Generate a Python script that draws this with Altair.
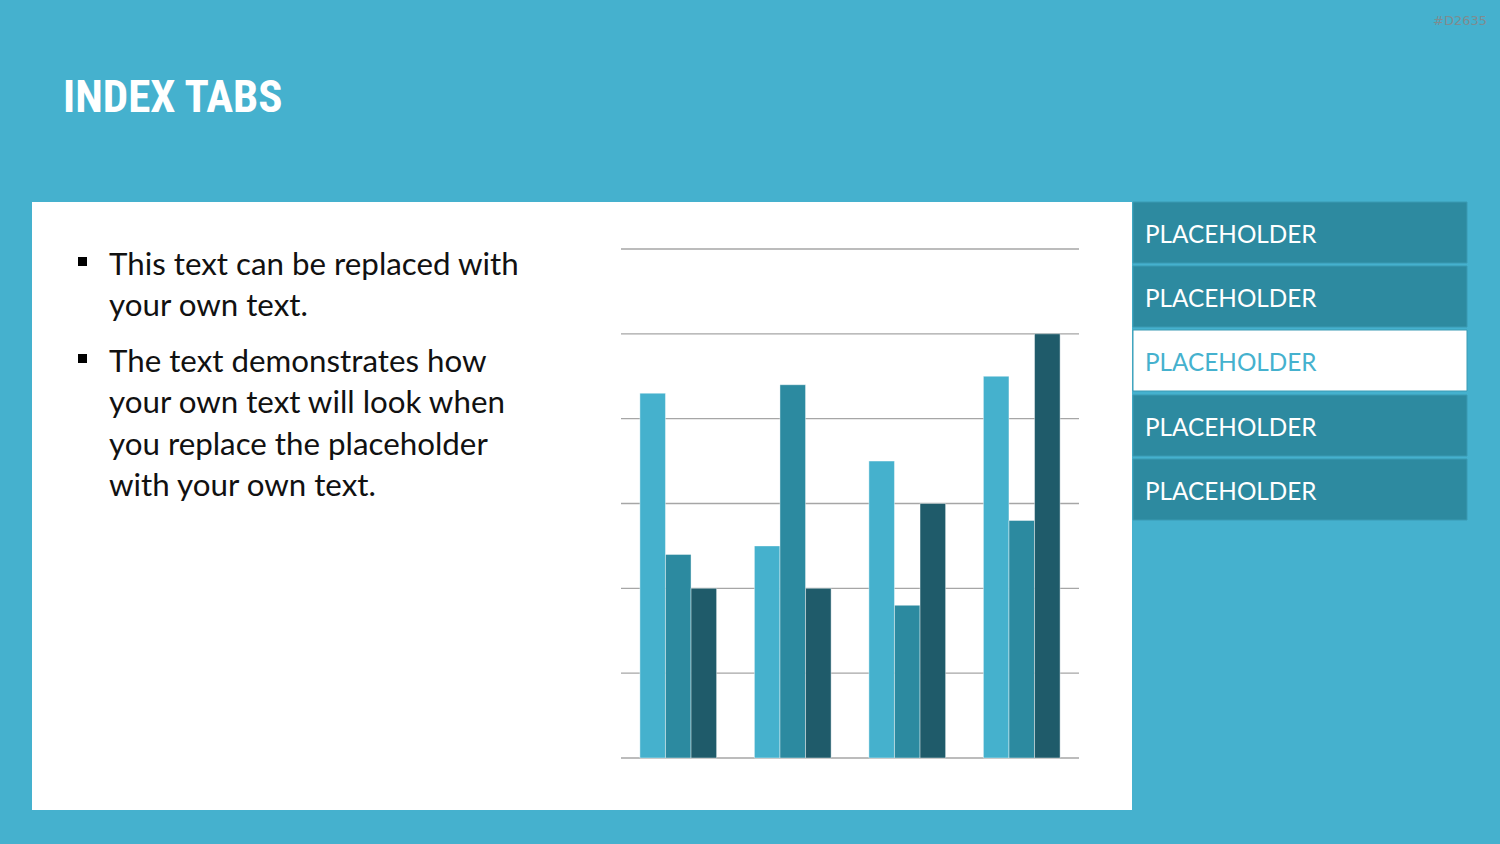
import altair as alt
import pandas as pd

# ---- data ----
categories = ["Category 1", "Category 2", "Category 3", "Category 4"]
series_names = ["Series 1", "Series 2", "Series 3"]
series_1 = [4.3, 2.5, 3.5, 4.5]
series_2 = [2.4, 4.4, 1.8, 2.8]
series_3 = [2.0, 2.0, 3.0, 5.0]
grid_ticks = [0, 1, 2, 3, 4, 5, 6]
tab_labels = ["PLACEHOLDER", "PLACEHOLDER", "PLACEHOLDER", "PLACEHOLDER", "PLACEHOLDER"]
active_tab = 2
bullets = [
    ["This text can be replaced with", "your own text."],
    ["The text demonstrates how", "your own text will look when",
     "you replace the placeholder", "with your own text."],
]
title_text = "INDEX TABS"
watermark = "#D2635"

# ---- colours ----
BG = "#45B1CE"
C_LIGHT = "#45B1CD"
C_MED = "#2C8AA0"
C_DARK = "#1F5B6A"
TAB = "#2D8AA0"
GRID = "#A6A6A6"

rows = []
for vals, s in zip([series_1, series_2, series_3], series_names):
    for c, v in zip(categories, vals):
        rows.append({"category": c, "series": s, "value": v})
bars_df = pd.DataFrame(rows)
grid_df = pd.DataFrame({"tick": grid_ticks})
one = pd.DataFrame({"k": [0]})

# plot area origin in page pixels
OX, OY = 621, 249
W, H = 458, 509


def px(x):
    return x - OX


def py(y):
    return y - OY


layers = []

# white content panel
layers.append(
    alt.Chart(one).mark_rect(color="white").encode(
        x=alt.value(px(32)), x2=alt.value(px(1132)),
        y=alt.value(py(202)), y2=alt.value(py(810)))
)

# tabs
tab_tops = [202, 266, 330, 395, 459]
tab_h = 61
for i, (lab, top) in enumerate(zip(tab_labels, tab_tops)):
    active = i == active_tab
    layers.append(
        alt.Chart(one).mark_rect(color="white" if active else TAB,
                                 stroke="#3A9AB3", strokeWidth=1).encode(
            x=alt.value(px(1133)), x2=alt.value(px(1467)),
            y=alt.value(py(top)), y2=alt.value(py(top + tab_h)))
    )
    layers.append(
        alt.Chart(one).mark_text(text=lab, align="left", baseline="alphabetic",
                                 font="Lato", fontSize=24.3,
                                 color=BG if active else "white").encode(
            x=alt.value(px(1145)), y=alt.value(py(top + 41)))
    )

# gridlines
layers.append(
    alt.Chart(grid_df).mark_rule(color=GRID, strokeWidth=1.3).encode(
        y=alt.Y("tick:Q", scale=alt.Scale(domain=[0, 6]), axis=None))
)

# bars
layers.append(
    alt.Chart(bars_df).mark_bar(stroke="white", strokeWidth=0.6, strokeOpacity=0.7).encode(
        x=alt.X("category:N", sort=categories, axis=None,
                scale=alt.Scale(paddingInner=0.33, paddingOuter=0.165)),
        xOffset=alt.XOffset("series:N", sort=series_names),
        y=alt.Y("value:Q", scale=alt.Scale(domain=[0, 6]), axis=None),
        color=alt.Color("series:N", legend=None,
                        scale=alt.Scale(domain=series_names,
                                        range=[C_LIGHT, C_MED, C_DARK])),
    )
)

# title
layers.append(
    alt.Chart(one).mark_text(text=title_text, align="left", baseline="alphabetic",
                             font="Roboto Condensed, DejaVu Sans Condensed",
                             fontWeight="bold", fontSize=45, color="white").encode(
        x=alt.value(px(63)), y=alt.value(py(112)))
)

# watermark
layers.append(
    alt.Chart(one).mark_text(text=watermark, align="right", baseline="alphabetic",
                             font="DejaVu Sans", fontSize=13, color="#7F8C90").encode(
        x=alt.value(px(1487)), y=alt.value(py(25)))
)

# bullets
bullet_first_baselines = [275, 372]
line_gap = 41.3
for lines, b0 in zip(bullets, bullet_first_baselines):
    layers.append(
        alt.Chart(one).mark_rect(color="black").encode(
            x=alt.value(px(78)), x2=alt.value(px(87)),
            y=alt.value(py(b0 - 18)), y2=alt.value(py(b0 - 9)))
    )
    for j, line in enumerate(lines):
        layers.append(
            alt.Chart(one).mark_text(text=line, align="left", baseline="alphabetic",
                                     font="Lato", fontSize=31.3, color="#111111").encode(
                x=alt.value(px(109)), y=alt.value(py(b0 + j * line_gap)))
        )

chart = alt.layer(*layers).properties(
    width=W, height=H,
    padding={"left": OX, "top": OY, "right": 1500 - OX - W, "bottom": 844 - OY - H},
    autosize="none",
    background=BG,
).configure_view(stroke=None)

chart.save("out.html", embed_options={"renderer": "svg", "actions": False})
